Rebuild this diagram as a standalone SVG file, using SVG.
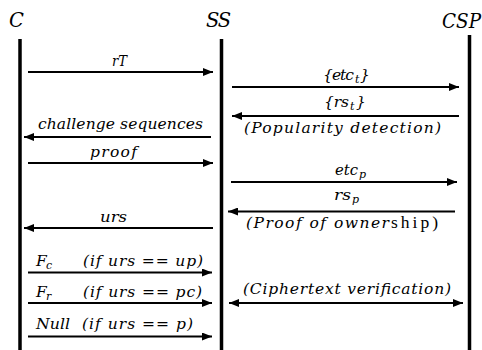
<svg xmlns="http://www.w3.org/2000/svg" width="482" height="350" viewBox="0 0 482 350">
<style>
text{font-family:"DejaVu Serif","Liberation Serif",serif;font-style:italic;font-size:15.5px;fill:#000}
.hd{font-size:19.5px}
.sub{font-size:11px}
.rm{font-family:"Liberation Serif","Times New Roman",serif;font-style:normal;font-size:17.5px}
.life{stroke:#000;stroke-width:3.5}
.msg{stroke:#000;stroke-width:2;fill:none;marker-end:url(#ah)}
</style>
<defs>
<marker id="ah" markerUnits="userSpaceOnUse" markerWidth="10" markerHeight="8" refX="10" refY="4" orient="auto-start-reverse">
<path d="M0,0 L10,4 L0,8 z" fill="#000"/>
</marker>
</defs>
<g id="C">
<text class="hd" x="9" y="27">C</text>
<line class="life" x1="20" y1="39" x2="20" y2="350"/>
</g>
<g id="SS">
<text class="hd" x="206" y="27" textLength="25" lengthAdjust="spacing">SS</text>
<line class="life" x1="221.5" y1="39" x2="221.5" y2="350"/>
</g>
<g id="CSP">
<text class="hd" x="442" y="28" textLength="39" lengthAdjust="spacingAndGlyphs">CSP</text>
<line class="life" x1="469.5" y1="35" x2="469.5" y2="350"/>
</g>
<g id="connectors">
<path class="msg" d="M28,72 H213"/>
<path class="msg" d="M232,87 H459"/>
<path class="msg" d="M459,116 H232"/>
<path class="msg" d="M211,137 H24"/>
<path class="msg" d="M28,163 H213"/>
<path class="msg" d="M231,182 H457"/>
<path class="msg" d="M455,211.5 H228"/>
<path class="msg" d="M213,228 H24"/>
<path class="msg" d="M28,272.5 H212"/>
<path class="msg" d="M28,303 H212"/>
<path class="msg" d="M28,336.5 H212"/>
<path class="msg" d="M229,303 H463" marker-start="url(#ah)"/>
</g>
<g id="labels">
<text x="112" y="66" textLength="15" lengthAdjust="spacingAndGlyphs">rT</text>
<text x="323" y="80"><tspan textLength="31" lengthAdjust="spacing">{etc</tspan><tspan class="sub" x="355" dy="3">t</tspan><tspan x="360" dy="-3">}</tspan></text>
<text x="324" y="107"><tspan textLength="25" lengthAdjust="spacing">{rs</tspan><tspan class="sub" x="350" dy="3">t</tspan><tspan x="356" dy="-3">}</tspan></text>
<text x="244" y="133" textLength="197" lengthAdjust="spacing">(Popularity detection)</text>
<text x="38" y="129" textLength="165" lengthAdjust="spacing">challenge sequences</text>
<text x="90" y="157" textLength="47" lengthAdjust="spacing">proof</text>
<text x="335" y="175"><tspan textLength="23" lengthAdjust="spacingAndGlyphs">etc</tspan><tspan class="sub" x="359" dy="3">p</tspan></text>
<text x="334" y="200"><tspan textLength="17" lengthAdjust="spacingAndGlyphs">rs</tspan><tspan class="sub" x="352" dy="3">p</tspan></text>
<text x="246" y="228"><tspan textLength="143" lengthAdjust="spacing">(Proof of owner</tspan></text>
<text class="rm" x="391" y="228" font-style="normal" textLength="47" lengthAdjust="spacing">ship)</text>
<text x="100" y="222" textLength="27" lengthAdjust="spacingAndGlyphs">urs</text>
<text x="36" y="266">F<tspan class="sub" x="46" dy="3">c</tspan></text>
<text x="83" y="266" textLength="120" lengthAdjust="spacing">(if urs == up)</text>
<text x="36" y="297">F<tspan class="sub" x="46" dy="3">r</tspan></text>
<text x="83" y="297" textLength="119" lengthAdjust="spacing">(if urs == pc)</text>
<text x="36" y="329" textLength="34" lengthAdjust="spacingAndGlyphs">Null</text>
<text x="82" y="329" textLength="111" lengthAdjust="spacing">(if urs == p)</text>
<text x="243" y="294" textLength="208" lengthAdjust="spacing">(Ciphertext verification)</text>
</g>
</svg>
